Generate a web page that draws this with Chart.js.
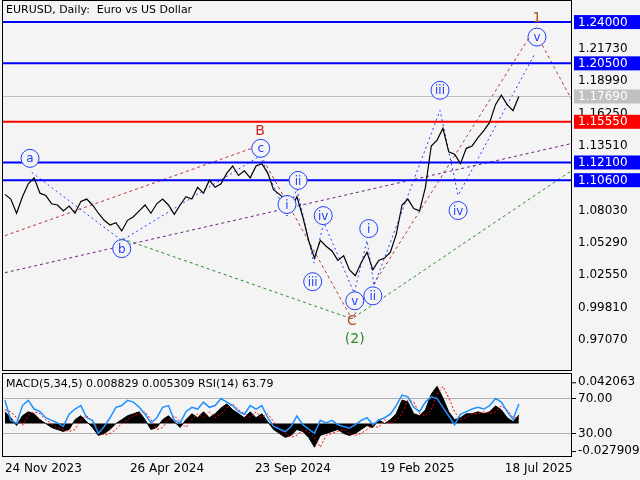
<!DOCTYPE html>
<html><head><meta charset="utf-8">
<script src="https://cdn.jsdelivr.net/npm/chart.js@4"></script>
<style>
body{margin:0;background:#f4f4f4;width:640px;height:480px;overflow:hidden;font-family:"DejaVu Sans",sans-serif}
#m{position:absolute;left:0;top:0;width:640px;height:372px}
#s{position:absolute;left:0;top:372px;width:640px;height:108px}
#t{position:absolute;left:6px;top:3px;font-size:11px;color:#000}
#ind{position:absolute;left:6px;top:377px;font-size:11px;color:#000}
</style></head><body>
<div id="m"><canvas id="c1"></canvas></div>
<div id="s"><canvas id="c2"></canvas></div>
<div id="t">EURUSD, Daily:&nbsp; Euro vs US Dollar</div>
<div id="ind">MACD(5,34,5) 0.008829 0.005309 RSI(14) 63.79</div>
<script>
const price=[1.094,1.090,1.078,1.092,1.103,1.108,1.095,1.093,1.086,1.085,
1.080,1.084,1.078,1.088,1.090,1.085,1.078,1.072,1.068,1.070,
1.063,1.072,1.075,1.080,1.085,1.078,1.086,1.090,1.085,1.077,
1.085,1.092,1.090,1.100,1.095,1.106,1.100,1.103,1.112,1.118,
1.110,1.114,1.108,1.118,1.120,1.112,1.098,1.094,1.090,1.082,
1.092,1.075,1.055,1.040,1.055,1.050,1.046,1.038,1.042,1.030,
1.025,1.036,1.045,1.030,1.038,1.040,1.045,1.060,1.085,1.090,
1.082,1.080,1.100,1.135,1.140,1.150,1.130,1.128,1.120,1.133,
1.135,1.142,1.148,1.155,1.170,1.178,1.170,1.165,1.1769];
const macd=[12,6,-2,8,12,10,4,0,-4,-6,
-8,-6,4,8,2,-4,-12,-10,-6,0,
4,8,10,12,4,-6,-4,4,8,2,
-4,4,10,6,12,6,10,16,20,14,
10,6,12,6,10,2,-6,-10,-14,-12,
-6,-8,-14,-24,-12,-10,-8,-6,-10,-12,
-10,-6,-2,-4,4,0,4,10,24,22,
10,8,14,30,38,26,12,4,6,10,
10,12,10,12,18,14,6,2,8.8];
const signal=[14,12,6,-2,8,12,10,4,0,-4,
-6,-8,-6,4,8,2,-4,-12,-10,-6,
0,4,8,10,12,4,-6,-4,4,8,
2,-4,4,10,6,12,6,10,16,20,
14,10,6,12,6,10,2,-6,-10,-14,
-12,-6,-8,-14,-24,-12,-10,-8,-6,-10,
-12,-10,-6,-2,-4,4,0,4,10,24,
22,10,8,14,30,38,26,12,4,6,
10,10,12,10,12,18,14,6,5.3];
const rsi=[68,45,42,62,68,58,55,48,45,42,
38,52,58,62,48,45,30,38,48,60,
62,68,66,60,52,42,48,60,62,45,
42,55,60,58,66,60,62,70,66,62,
55,52,62,58,62,48,38,35,32,38,
50,40,35,30,45,42,45,40,38,36,
40,45,48,40,45,48,52,62,74,72,
60,55,66,72,70,60,50,40,52,55,
58,60,58,62,70,66,55,46,63.79];
const dateLabels=["24 Nov 2023","26 Apr 2024","23 Sep 2024","19 Feb 2025","18 Jul 2025"];
const datePos=[0,21.4,42.8,64.2,85.6];
const yTicks=[1.2173,1.1899,1.1625,1.1351,1.0803,1.0529,1.0255,0.9981,0.9707];
const levels=[1.24,1.205,1.1769,1.1555,1.121,1.106];
const levelColors=["#0000ff","#0000ff","#c0c0c0","#ff0000","#0000ff","#0000ff"];
const levelWidths=[2,2,1,2,2,2];
const waveNames=["a","b","c","i","ii","iii","iv","v","i","ii","iii","iv","v"];
const waveX=[4.3,20.0,43.8,48.3,50.2,52.7,54.5,59.9,62.3,63.0,74.5,77.6,91.1];
const waveY=[1.1245,1.048,1.133,1.0854,1.1058,1.020,1.076,1.0038,1.065,1.008,1.1822,1.0803,1.2273];
const textNames=["B","C","1","(2)"];
const textX=[43.7,59.4,91.1,59.9];
const textY=[1.1474,0.986,1.2434,0.9715];
const textColors=["#d02020","#b0502a","#b0502a","#2a8a2a"];
const lineRedX=[0,43.7], lineRedY=[1.059,1.1355];
const linePurpleX=[0,97.1], linePurpleY=[1.0276,1.1372];
const lineGreenX=[20,59.4,97.1], lineGreenY=[1.0565,0.9885,1.1143];
const lineBlueX=[4.6,20,43.7,48.3,50,52.9,54.6,59.8,62,63.2,74.5,77.6,90.8];
const lineBlueY=[1.1126,1.0548,1.1266,1.0757,1.0987,1.0358,1.070,1.0105,1.0548,1.0166,1.1652,1.0931,1.2137];
const lineBrownX=[44.3,59.4,91.1], lineBrownY=[1.1228,0.9885,1.2375];
const lineBrown2X=[92,97.1], lineBrown2Y=[1.2205,1.1737];

const XMIN=-0.5,XMAX=97.1;
const pts=(xs,ys)=>xs.map((x,i)=>({x:x,y:ys[i]}));
const F='"DejaVu Sans", sans-serif';
Chart.defaults.font.family=F;Chart.defaults.font.size=11;Chart.defaults.color='#000';
const dash=(xs,ys,c,d)=>({type:'line',data:pts(xs,ys),borderColor:c,borderWidth:1,borderDash:d,pointRadius:0,fill:false,tension:0});
const ds=[];
levels.forEach((v,i)=>ds.push({type:'line',data:[{x:XMIN,y:v},{x:XMAX,y:v}],borderColor:levelColors[i],borderWidth:levelWidths[i],pointRadius:0}));
ds.push(dash(lineRedX,lineRedY,'#c03030',[3,3]));
ds.push(dash(linePurpleX,linePurpleY,'#702080',[3,3]));
ds.push(dash(lineGreenX,lineGreenY,'#2a8a2a',[3,3]));
ds.push(dash(lineBlueX,lineBlueY,'#2040ff',[2,3]));
ds.push(dash(lineBrownX,lineBrownY,'#b04030',[3,3]));
ds.push(dash(lineBrown2X,lineBrown2Y,'#b04030',[3,3]));
ds.push({type:'line',data:price.map((p,i)=>({x:i,y:p})),borderColor:'#000',borderWidth:1.2,pointRadius:0,tension:0,order:-1});

const frame={id:'frame',afterDraw(ch){const a=ch.chartArea,c=ch.ctx;c.save();c.strokeStyle='#000';c.lineWidth=1;c.strokeRect(a.left+0.5,a.top+0.5,a.right-a.left-1,a.bottom-a.top-1);c.restore();}};
const marks={id:'marks',afterDatasetsDraw(ch){const c=ch.ctx,xs=ch.scales.x,ys=ch.scales.y;c.save();
 c.textAlign='center';c.textBaseline='middle';
 waveNames.forEach((n,i)=>{const px=xs.getPixelForValue(waveX[i]),py=ys.getPixelForValue(waveY[i]);
  c.beginPath();c.arc(px,py,9,0,Math.PI*2);c.fillStyle='#f4f4f4';c.fill();c.strokeStyle='#1f3fff';c.lineWidth=1;c.stroke();
  c.fillStyle='#1f3fff';c.font='12px '+F;c.fillText(n,px,py+1);});
 textNames.forEach((n,i)=>{c.fillStyle=textColors[i];c.font='14px '+F;c.fillText(n,xs.getPixelForValue(textX[i]),ys.getPixelForValue(textY[i]));});
 c.restore();},
 afterDraw(ch){const c=ch.ctx,ys=ch.scales.y,a=ch.chartArea;c.save();c.font='12px '+F;c.textBaseline='middle';c.textAlign='left';
 levels.forEach((v,i)=>{const py=ys.getPixelForValue(v);c.fillStyle=levelColors[i];c.fillRect(a.right+2,py-7,66,14);c.fillStyle='#fff';c.fillText(v.toFixed(5),a.right+6,py+0.5);});
 c.restore();}};
const noPad=s=>{s.paddingTop=0;s.paddingBottom=0;};

new Chart(document.getElementById('c1'),{data:{datasets:ds},options:{responsive:true,maintainAspectRatio:false,animation:false,
 layout:{padding:{left:2,top:0,right:0,bottom:1}},
 plugins:{legend:{display:false},tooltip:{enabled:false}},
 scales:{x:{type:'linear',min:XMIN,max:XMAX,display:false},
  y:{position:'right',min:0.9443,max:1.2587,afterFit(s){s.width=68;noPad(s);},afterBuildTicks(s){s.ticks=yTicks.map(v=>({value:v}));},
   grid:{display:false,drawTicks:true,tickLength:4,tickColor:'#000'},border:{display:false},
   ticks:{callback:v=>v.toFixed(5),color:'#000',padding:2,font:{size:12}}}}},
 plugins:[frame,marks]});

const ind={id:'ind',afterDraw(ch){const c=ch.ctx,a=ch.chartArea,m=ch.scales.ym;c.save();c.font='12px '+F;c.textBaseline='middle';c.fillStyle='#000';
 [[0.042063,'0.042063'],[-0.027909,'-0.027909']].forEach(([v,t])=>{const py=m.getPixelForValue(v);c.fillText(t,a.right+6,py);c.fillRect(a.right,py,4,1);});
 c.restore();}};
new Chart(document.getElementById('c2'),{data:{datasets:[
 {type:'line',data:rsi.map((v,i)=>({x:i,y:v})),yAxisID:'yr',borderColor:'#1e90ff',borderWidth:1.5,pointRadius:0,tension:0,order:-2},
 {type:'line',data:signal.map((v,i)=>({x:i,y:v/1000})),yAxisID:'ym',borderColor:'#ff0000',borderWidth:1,borderDash:[2,2],pointRadius:0,tension:0,order:-1},
 {type:'line',data:macd.map((v,i)=>({x:i,y:v/1000})),yAxisID:'ym',borderColor:'#000',borderWidth:1,backgroundColor:'#000',fill:'origin',pointRadius:0,tension:0,order:0}]},
 options:{responsive:true,maintainAspectRatio:false,animation:false,layout:{padding:{left:2,top:1,right:0,bottom:0}},
 plugins:{legend:{display:false},tooltip:{enabled:false},filler:{propagate:false}},
 scales:{x:{type:'linear',min:XMIN,max:XMAX,afterFit(s){s.height=23;},afterBuildTicks(s){s.ticks=datePos.map(v=>({value:v}));},
   grid:{display:false,drawTicks:true,tickLength:4,tickColor:'#000'},border:{display:false},
   ticks:{callback:(v,i)=>dateLabels[i],align:'start',maxRotation:0,autoSkip:false,color:'#000',padding:1,font:{size:12}}},
  ym:{type:'linear',position:'right',min:-0.034,max:0.0515,display:false},
  yr:{type:'linear',position:'right',min:2.9,max:99.4,afterFit(s){s.width=68;noPad(s);},afterBuildTicks(s){s.ticks=[{value:70},{value:30}];},
   grid:{color:'#b0b0b0',borderDash:[3,3],tickColor:'#000',tickLength:4},border:{display:false},
   ticks:{callback:v=>v.toFixed(2),color:'#000',padding:2,font:{size:12}}}}},
 plugins:[frame,ind]});
</script></body></html>
